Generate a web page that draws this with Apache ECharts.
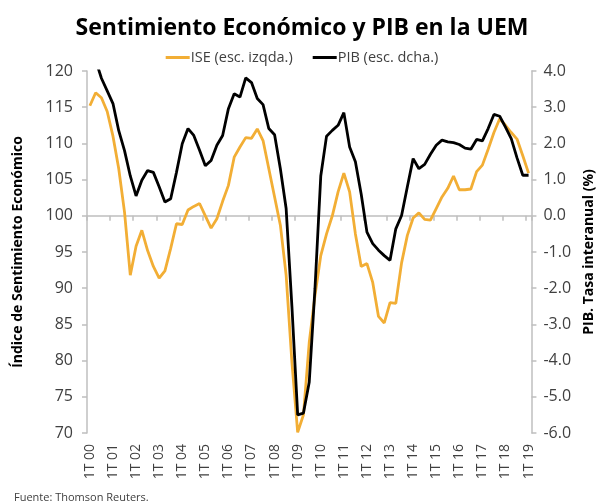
<!DOCTYPE html>
<html>
<head>
<meta charset="utf-8">
<script src="https://cdn.jsdelivr.net/npm/echarts@6/dist/echarts.min.js"></script>
<style>
html,body{margin:0;padding:0;background:#fff;}
#c{width:604px;height:503px;}
</style>
</head>
<body>
<div id="c"></div>
<script>
// Quarterly categories 1T 00 .. 1T 19
var years = ['00','01','02','03','04','05','06','07','08','09','10','11','12','13','14','15','16','17','18','19'];
var quarters = ['1T','2T','3T','4T'];
var categories = [];
years.forEach(function(y, yi){
  quarters.forEach(function(q, qi){
    if (yi < years.length - 1 || qi === 0) categories.push(q + ' ' + y);
  });
});

// Índice de Sentimiento Económico (left axis)
var ise = [
  115.2, 117.0, 116.3, 114.4,
  111.0, 106.5, 100.5, 91.8,
  95.8, 98.0, 95.2, 93.0,
  91.4, 92.4, 95.5, 98.9,
  98.8, 100.8, 101.3, 101.7,
  100.0, 98.3, 99.6, 102.0,
  104.2, 108.1, 109.5, 110.8,
  110.7, 112.0, 110.4, 106.5,
  102.6, 98.7, 91.8, 79.8,
  70.1, 72.5, 82.5, 89.0,
  94.5, 97.5, 100.0, 103.3,
  105.9, 103.3, 97.5, 93.0,
  93.4, 90.8, 86.1, 85.2,
  88.0, 87.9, 93.5, 97.3,
  99.7, 100.4, 99.5, 99.4,
  101.0, 102.6, 103.8, 105.5,
  103.6, 103.6, 103.7, 106.1,
  107.0, 109.2, 111.5, 113.4,
  112.5, 111.5, 110.6, 108.3,
  105.9
];

// PIB, tasa interanual % (right axis)
var pib = [
  4.5, 4.3, 3.8, 3.45,
  3.1, 2.35, 1.8, 1.1,
  0.55, 0.98, 1.25, 1.2,
  0.8, 0.38, 0.47, 1.2,
  1.99, 2.41, 2.22, 1.81,
  1.38, 1.53, 1.95, 2.22,
  2.96, 3.37, 3.28, 3.81,
  3.68, 3.24, 3.07, 2.41,
  2.24, 1.3, 0.2, -2.5,
  -5.5, -5.45, -4.6, -2.0,
  1.1, 2.2, 2.36, 2.5,
  2.85, 1.9, 1.49, 0.6,
  -0.45, -0.77, -0.95, -1.1,
  -1.23, -0.36, 0.01, 0.8,
  1.58, 1.3, 1.42, 1.7,
  1.95, 2.09, 2.04, 2.02,
  1.97, 1.87, 1.84, 2.11,
  2.07, 2.41, 2.80, 2.75,
  2.45, 2.13, 1.6, 1.12,
  1.12
];

var titleText = 'Sentimiento Económico y PIB en la UEM';
var seriesNames = ['ISE (esc. izqda.)', 'PIB (esc. dcha.)'];
var leftName = 'Índice de Sentimiento Económico';
var rightName = 'PIB. Tasa interanual (%)';
var sourceText = 'Fuente: Thomson Reuters.';

var axisGrey = '#bfbfbf';
var textGrey = '#404040';
var orange = '#F2AE35';
var font = 'Open Sans';

var chart = echarts.init(document.getElementById('c'), null, {renderer: 'canvas'});
chart.setOption({
  animation: false,
  backgroundColor: '#fff',
  title: {
    text: titleText,
    left: 'center',
    top: 12,
    textStyle: {fontFamily: font, fontWeight: 'bold', fontSize: 23, color: '#000'}
  },
  graphic: [{
    type: 'text', left: 14, top: 492,
    style: {text: sourceText, fontFamily: font, fontSize: 11, fill: textGrey}
  }],
  legend: {
    top: 45,
    left: 'center',
    itemGap: 20,
    itemWidth: 24,
    itemHeight: 3,
    icon: 'rect',
    textStyle: {fontFamily: font, fontSize: 14.5, color: textGrey, padding: [0,0,0,-4]},
    data: seriesNames
  },
  grid: {left: 87, right: 62, top: 71, bottom: 70, containLabel: false},
  xAxis: {
    type: 'category',
    data: categories,
    boundaryGap: true,
    axisLine: {lineStyle: {color: axisGrey, width: 1.5}},
    axisTick: {show: true, interval: 3, length: 5, lineStyle: {color: axisGrey, width: 1.5}},
    axisLabel: {interval: 3, rotate: 90, fontFamily: font, fontSize: 14, color: textGrey, margin: 11},
    splitLine: {show: false}
  },
  yAxis: [{
    type: 'value',
    min: 70, max: 120, interval: 5,
    name: leftName,
    nameLocation: 'middle',
    nameRotate: 90,
    nameGap: 62,
    nameTextStyle: {fontFamily: font, fontWeight: 'bold', fontSize: 14, color: '#000'},
    axisLine: {show: true, lineStyle: {color: axisGrey, width: 1.5}},
    axisTick: {show: true, length: 5, lineStyle: {color: axisGrey, width: 1.5}},
    axisLabel: {fontFamily: font, fontSize: 16, color: textGrey, margin: 14},
    splitLine: {show: false}
  }, {
    type: 'value',
    min: -6, max: 4, interval: 1,
    position: 'right',
    name: rightName,
    nameLocation: 'middle',
    nameRotate: 90,
    nameGap: 48,
    nameTextStyle: {fontFamily: font, fontWeight: 'bold', fontSize: 14, color: '#000'},
    axisLine: {show: true, lineStyle: {color: axisGrey, width: 1.5}},
    axisTick: {show: true, length: 5, lineStyle: {color: axisGrey, width: 1.5}},
    axisLabel: {fontFamily: font, fontSize: 16, color: textGrey, margin: 12,
      formatter: function(v){ return v.toFixed(1); }},
    splitLine: {show: false}
  }],
  series: [{
    name: seriesNames[0],
    type: 'line',
    yAxisIndex: 0,
    data: ise,
    showSymbol: false,
    symbol: 'none',
    clip: true,
    lineStyle: {color: orange, width: 2.8},
    itemStyle: {color: orange},
    z: 2
  }, {
    name: seriesNames[1],
    type: 'line',
    yAxisIndex: 1,
    data: pib,
    showSymbol: false,
    symbol: 'none',
    clip: true,
    lineStyle: {color: '#000', width: 2.8},
    itemStyle: {color: '#000'},
    z: 3
  }]
});
</script>
</body>
</html>
